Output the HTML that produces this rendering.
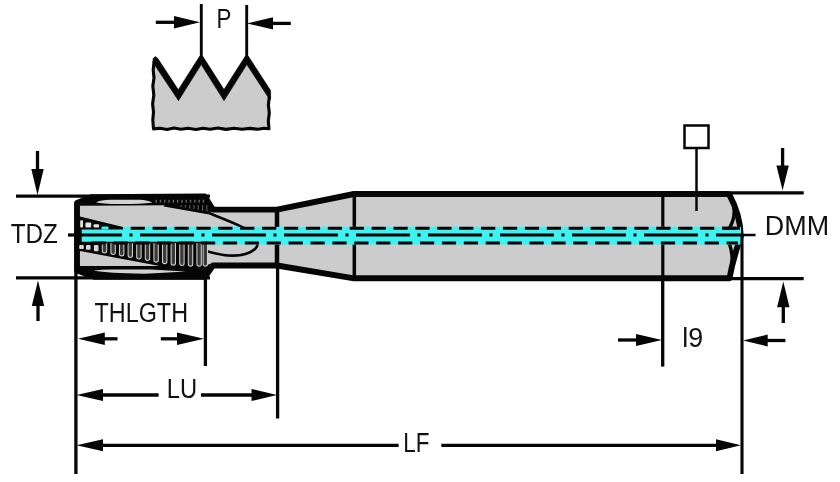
<!DOCTYPE html>
<html><head><meta charset="utf-8">
<style>
html,body{margin:0;padding:0;background:#fff;}
body{width:840px;height:482px;overflow:hidden;}
svg{display:block;will-change:transform;}
text{font-family:"Liberation Sans",sans-serif;fill:#111;}
</style></head>
<body>
<svg width="840" height="482" viewBox="0 0 840 482">
<rect width="840" height="482" fill="#fff"/>
<path d="M153,62.5 L178.5,100.7 L201.2,64.6 L224,100.8 L246.8,64.6 L269.5,99.2 L270.6,99.2 L269.2,97 L268.4,105 L269.3,113 L268.3,121 L269,128.8 L264,128.3 L258,129.3 L250,128.4 L242,129.3 L234,128.2 L226,129.4 L218,128 L210,129.3 L203,128.2 L196,129.5 L188,128.2 L181,129.3 L174,128 L167,129.5 L160,128.3 L153.5,128.9 L152.8,120 L153.5,112 L152.6,104 L153.8,95 L152.8,86 L154,78 L153.2,70 L154,62 Z" fill="#cccccc"/>
<path d="M269.2,97 L268.4,105 L269.3,113 L268.3,121 L269,128.8 L264,128.3 L258,129.3 L250,128.4 L242,129.3 L234,128.2 L226,129.4 L218,128 L210,129.3 L203,128.2 L196,129.5 L188,128.2 L181,129.3 L174,128 L167,129.5 L160,128.3 L153.5,128.9 L152.8,120 L153.5,112 L152.6,104 L153.8,95 L152.8,86 L154,78 L153.2,70 L154,62" fill="none" stroke="#050505" stroke-width="3.1" stroke-linejoin="round" stroke-linecap="round"/>
<path d="M153,58.8 L155.2,56.6 L157.5,58 L178.3,89.7 L199.8,56.1 L202.6,56.1 L224,89.6 L245.4,56 L248.2,56 L270.6,90.6 L270.6,99.2 L269.5,99.2 L246.8,64.6 L224,100.8 L201.2,64.6 L178.5,100.7 L153,62.5 Z" fill="#050505" stroke="#050505" stroke-width="0.6" stroke-linejoin="round"/>
<line x1="201.3" y1="4" x2="201.3" y2="58" stroke="#050505" stroke-width="2.9" />
<line x1="246.7" y1="5" x2="246.7" y2="58" stroke="#050505" stroke-width="2.9" />
<line x1="155.8" y1="22.3" x2="176" y2="22.3" stroke="#050505" stroke-width="3.3" /><polygon points="174,16.1 200,22.3 174,28.5" fill="#050505"/>
<line x1="290.8" y1="23.4" x2="271" y2="23.4" stroke="#050505" stroke-width="3.3" /><polygon points="273,17.2 247,23.4 273,29.599999999999998" fill="#050505"/>
<defs><clipPath id="tc"><path d="M77,203 L91,197.2 L204.5,196.4 L213,209.6 L277,209.6 L354,194 L729,194 Q740.5,215 740.75,236.1 C738,246 733,258 729.5,278.3 L354,278.3 L277,265.5 L213,265.5 L205,276.9 L95,276.9 L77,270.5 Z"/></clipPath></defs>
<path d="M77,203 L91,197.2 L204.5,196.4 L213,209.6 L277,209.6 L354,194 L729,194 Q740.5,215 740.75,236.1 C738,246 733,258 729.5,278.3 L354,278.3 L277,265.5 L213,265.5 L205,276.9 L95,276.9 L77,270.5 Z" fill="#cccccc"/>
<g clip-path="url(#tc)">
<path d="M164,205.2 L209.5,213.3 C224,219 240,225 250,231 C258,236 260,244 255,249 C248,255 236,256 228,255.5 C215,254.5 203,250 190,246" fill="none" stroke="#050505" stroke-width="2.6"/>
</g>
<path d="M77,203 L91,197.2 L204.5,196.4 L213,209.6 L277,209.6 L354,194 L729,194 Q740.5,215 740.75,236.1 C738,246 733,258 729.5,278.3 L354,278.3 L277,265.5 L213,265.5 L205,276.9 L95,276.9 L77,270.5 Z" fill="none" stroke="#050505" stroke-width="5.9" stroke-linejoin="round"/>
<line x1="277" y1="209" x2="277" y2="266" stroke="#050505" stroke-width="4.5" />
<line x1="354.3" y1="194" x2="354.3" y2="278" stroke="#050505" stroke-width="3.5" />
<line x1="662.8" y1="194" x2="662.8" y2="278" stroke="#050505" stroke-width="3.2" />
<path d="M729.5,195 Q739,211.5 729.5,228" fill="none" stroke="#050505" stroke-width="3.4"/>
<path d="M729.5,244 Q734.5,258 730,277" fill="none" stroke="#050505" stroke-width="3.4"/>
<rect x="81" y="226.9" width="660" height="17.7" fill="#3ff2f2"/>
<g clip-path="url(#tc)">
<path d="M70,203 L91,196 L204.5,195 L213.5,208.5 L209.5,213.3 L164,205.2 L80,205.8 Z" fill="#050505"/>
<path d="M96,202.3 Q101,199.6 111,199.7 L140,199.7 Q148,200.2 152.5,202.6 Q140,204.2 120,204.1 Q101,204.1 96,202.3 Z" fill="#d2d2d2"/>
<rect x="155.5" y="199.8" width="1.3" height="2.8" fill="#6a6a6a"/>
<rect x="159.8" y="199.8" width="1.3" height="2.8" fill="#6a6a6a"/>
<rect x="164.1" y="199.8" width="1.3" height="2.8" fill="#6a6a6a"/>
<rect x="168.4" y="199.8" width="1.3" height="2.8" fill="#6a6a6a"/>
<rect x="172.7" y="199.8" width="1.3" height="2.8" fill="#6a6a6a"/>
<rect x="177.0" y="199.8" width="1.3" height="2.8" fill="#6a6a6a"/>
<rect x="181.3" y="199.8" width="1.3" height="2.8" fill="#6a6a6a"/>
<rect x="185.6" y="199.8" width="1.3" height="2.8" fill="#6a6a6a"/>
<rect x="189.9" y="199.8" width="1.3" height="2.8" fill="#6a6a6a"/>
<rect x="194.2" y="199.8" width="1.3" height="2.8" fill="#6a6a6a"/>
<rect x="198.5" y="199.8" width="1.3" height="2.8" fill="#6a6a6a"/>
<rect x="202.8" y="199.8" width="1.3" height="2.8" fill="#6a6a6a"/>
<rect x="180.5" y="205" width="1.1" height="1.9" fill="#5a5a5a"/>
<rect x="184.8" y="205" width="1.1" height="2.7" fill="#5a5a5a"/>
<rect x="189.1" y="205" width="1.1" height="3.5" fill="#5a5a5a"/>
<rect x="193.4" y="205" width="1.1" height="4.2" fill="#5a5a5a"/>
<rect x="197.7" y="205" width="1.1" height="5.0" fill="#5a5a5a"/>
<rect x="202.0" y="205" width="1.1" height="5.8" fill="#5a5a5a"/>
<rect x="206.3" y="205" width="1.1" height="6.5" fill="#5a5a5a"/>
<path d="M70,266 L200,266 L213,263.5 L205,279 L95,279 L70,272 Z" fill="#050505"/>
<path d="M93.5,270.6 Q100,269.3 115,269.4 L150,269.6 L186,271.6 L150,273.6 Q110,273.9 93.5,270.6 Z" fill="#d2d2d2"/>
<path d="M79,241.8 L208,241.8 L208,267 L165,267 L80,251 Z" fill="#050505"/>
<rect x="79.2" y="245.0" width="4.6" height="4.0" rx="1" fill="#d8d8d8"/>
<rect x="86.0" y="245.0" width="4.6" height="4.8" rx="1" fill="#d8d8d8"/>
<rect x="93.9" y="245.0" width="4.6" height="6.2" rx="1" fill="#d8d8d8"/>
<path d="M102.3,243.3 L102.3,250.7 Q102.3,252.9 104.5,252.9 Q106.7,252.9 106.7,250.7 L106.7,243.3" fill="#3a3a3a" stroke="#cfcfcf" stroke-width="1.05"/>
<path d="M110.9,243.3 L110.9,252.3 Q110.9,254.5 113.1,254.5 Q115.3,254.5 115.3,252.3 L115.3,243.3" fill="#3a3a3a" stroke="#cfcfcf" stroke-width="1.05"/>
<path d="M119.5,243.3 L119.5,253.8 Q119.5,256.0 121.7,256.0 Q123.9,256.0 123.9,253.8 L123.9,243.3" fill="#3a3a3a" stroke="#cfcfcf" stroke-width="1.05"/>
<path d="M128.1,243.3 L128.1,255.3 Q128.1,257.5 130.3,257.5 Q132.5,257.5 132.5,255.3 L132.5,243.3" fill="#3a3a3a" stroke="#cfcfcf" stroke-width="1.05"/>
<path d="M136.7,243.3 L136.7,256.8 Q136.7,259.0 138.9,259.0 Q141.1,259.0 141.1,256.8 L141.1,243.3" fill="#3a3a3a" stroke="#cfcfcf" stroke-width="1.05"/>
<path d="M145.3,243.3 L145.3,258.3 Q145.3,260.5 147.5,260.5 Q149.7,260.5 149.7,258.3 L149.7,243.3" fill="#3a3a3a" stroke="#cfcfcf" stroke-width="1.05"/>
<path d="M153.9,243.3 L153.9,259.9 Q153.9,262.1 156.1,262.1 Q158.3,262.1 158.3,259.9 L158.3,243.3" fill="#3a3a3a" stroke="#cfcfcf" stroke-width="1.05"/>
<path d="M162.5,243.3 L162.5,261.4 Q162.5,263.6 164.7,263.6 Q166.9,263.6 166.9,261.4 L166.9,243.3" fill="#3a3a3a" stroke="#cfcfcf" stroke-width="1.05"/>
<path d="M171.1,243.3 L171.1,262.9 Q171.1,265.1 173.3,265.1 Q175.5,265.1 175.5,262.9 L175.5,243.3" fill="#3a3a3a" stroke="#cfcfcf" stroke-width="1.05"/>
<path d="M179.7,243.3 L179.7,263.3 Q179.7,265.5 181.9,265.5 Q184.1,265.5 184.1,263.3 L184.1,243.3" fill="#3a3a3a" stroke="#cfcfcf" stroke-width="1.05"/>
<path d="M188.3,243.3 L188.3,264.1 Q188.3,266.3 190.5,266.3 Q192.7,266.3 192.7,264.1 L192.7,243.3" fill="#3a3a3a" stroke="#cfcfcf" stroke-width="1.05"/>
<path d="M196.9,243.3 L196.9,264.1 Q196.9,266.3 199.1,266.3 Q201.3,266.3 201.3,264.1 L201.3,243.3" fill="#3a3a3a" stroke="#cfcfcf" stroke-width="1.05"/>
<path d="M203.1,243.3 L203.1,264.1 Q203.1,266.3 205.3,266.3 Q207.5,266.3 207.5,264.1 L207.5,243.3" fill="#3a3a3a" stroke="#cfcfcf" stroke-width="1.05"/>
<rect x="78.5" y="227" width="3.2" height="17" fill="#050505"/>
<path d="M79,216.3 L123,227 L123,229.4 L79,229.4 Z" fill="#050505"/>
<rect x="80.2" y="220.3" width="2.8" height="7.2" rx="0.8" fill="#e0e0e0"/>
<rect x="85.4" y="222.4" width="5.8" height="5" rx="1" fill="#e4e4e4"/>
<rect x="93.5" y="224.2" width="5.6" height="3.4" rx="1" fill="#e4e4e4"/>
<rect x="101.5" y="226.4" width="7" height="3.2" rx="1.2" fill="#3ff2f2"/>
</g>
<line x1="130.7" y1="228.2" x2="738" y2="228.2" stroke="#050505" stroke-width="3" stroke-dasharray="14.2 7.7"/>
<line x1="91.5" y1="242.9" x2="738" y2="242.9" stroke="#050505" stroke-width="3" stroke-dasharray="14.2 7.7"/>
<line x1="68" y1="235" x2="741" y2="235" stroke="#050505" stroke-width="2.8" stroke-dasharray="54 7.5 3 7.5"/>
<line x1="722" y1="228.2" x2="740" y2="228.2" stroke="#050505" stroke-width="3" />
<line x1="16" y1="196.1" x2="210" y2="196.1" stroke="#050505" stroke-width="3.3" />
<line x1="16" y1="277.9" x2="210" y2="277.9" stroke="#050505" stroke-width="3.3" />
<line x1="37.5" y1="151" x2="37.5" y2="171" stroke="#050505" stroke-width="3.3" /><polygon points="31.3,169 37.5,195 43.7,169" fill="#050505"/>
<line x1="38" y1="321" x2="38" y2="304" stroke="#050505" stroke-width="3.3" /><polygon points="31.8,306 38,280.5 44.2,306" fill="#050505"/>
<line x1="68" y1="235" x2="78" y2="235" stroke="#050505" stroke-width="2.5" />
<line x1="730" y1="192.9" x2="803.7" y2="192.9" stroke="#050505" stroke-width="3.3" />
<line x1="730" y1="278.7" x2="803.7" y2="278.7" stroke="#050505" stroke-width="3.3" />
<line x1="782.6" y1="148" x2="782.6" y2="167.5" stroke="#050505" stroke-width="3.3" /><polygon points="776.4,165.5 782.6,190.5 788.8000000000001,165.5" fill="#050505"/>
<line x1="783.3" y1="323" x2="783.3" y2="305.3" stroke="#050505" stroke-width="3.3" /><polygon points="777.0999999999999,307.3 783.3,281.4 789.5,307.3" fill="#050505"/>
<line x1="741" y1="235" x2="755.6" y2="235" stroke="#050505" stroke-width="2.5" />
<line x1="75.9" y1="270" x2="75.9" y2="474" stroke="#050505" stroke-width="3.3" />
<line x1="205.4" y1="272" x2="205.4" y2="366" stroke="#050505" stroke-width="3.3" />
<line x1="277.6" y1="264" x2="277.6" y2="418.5" stroke="#050505" stroke-width="3.3" />
<line x1="662.7" y1="278" x2="662.7" y2="366.6" stroke="#050505" stroke-width="3.3" />
<line x1="742" y1="235" x2="742" y2="474" stroke="#050505" stroke-width="3.1" />
<rect x="684.5" y="125.5" width="24" height="22.5" fill="#fff" stroke="#050505" stroke-width="2.5"/>
<line x1="696.5" y1="149" x2="696.5" y2="211" stroke="#050505" stroke-width="2.5" />
<line x1="117.5" y1="338.8" x2="102.8" y2="338.8" stroke="#050505" stroke-width="3.3" /><polygon points="104.8,332.6 78,338.8 104.8,345.0" fill="#050505"/>
<line x1="160.8" y1="338.8" x2="179" y2="338.8" stroke="#050505" stroke-width="3.3" /><polygon points="177,332.6 204,338.8 177,345.0" fill="#050505"/>
<line x1="158.6" y1="395" x2="101" y2="395" stroke="#050505" stroke-width="3.3" /><polygon points="103,389 76.5,395 103,401" fill="#050505"/>
<line x1="201" y1="395" x2="253.5" y2="395" stroke="#050505" stroke-width="3.3" /><polygon points="251.5,389 277,395 251.5,401" fill="#050505"/>
<line x1="398.7" y1="445.3" x2="101" y2="445.3" stroke="#050505" stroke-width="3.3" /><polygon points="103,439.3 76.5,445.3 103,451.3" fill="#050505"/>
<line x1="441.3" y1="445.3" x2="718" y2="445.3" stroke="#050505" stroke-width="3.3" /><polygon points="716,439.3 741,445.3 716,451.3" fill="#050505"/>
<line x1="618" y1="340" x2="638" y2="340" stroke="#050505" stroke-width="3.3" /><polygon points="636,334 662,340 636,346" fill="#050505"/>
<line x1="785.4" y1="340.5" x2="765.7" y2="340.5" stroke="#050505" stroke-width="3.3" /><polygon points="767.7,334.5 743,340.5 767.7,346.5" fill="#050505"/>
<text transform="translate(216.47,27.6) scale(0.8026,1)" font-size="27.8">P</text>
<text transform="translate(10.63,243) scale(0.8735,1)" font-size="27.8">TDZ</text>
<text transform="translate(764.77,235) scale(0.9701,1)" font-size="27.8">DMM</text>
<text transform="translate(94.55,321.6) scale(0.8408,1)" font-size="27.8">THLGTH</text>
<text transform="translate(166.84,398) scale(0.8546,1)" font-size="27.8">LU</text>
<text transform="translate(403.26,451.6) scale(0.8071,1)" font-size="27.8">LF</text>
<text transform="translate(682.29,346.9) scale(0.9651,1)" font-size="27.8">l9</text>
</svg>
</body></html>
